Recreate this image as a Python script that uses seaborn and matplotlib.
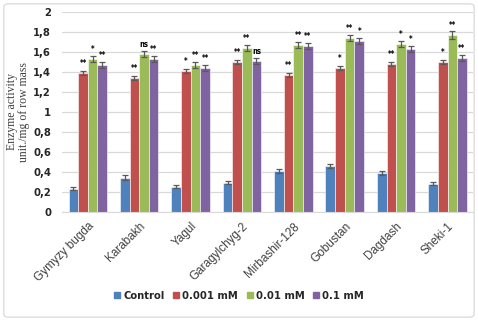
import matplotlib
matplotlib.use("Agg")
import matplotlib.pyplot as plt
import seaborn as sns
import pandas as pd
import numpy as np
from matplotlib.patches import FancyBboxPatch
from matplotlib.ticker import FixedLocator, FuncFormatter

varieties = ["Gymyzy bugda", "Karabakh", "Yagul", "Garagylchyg-2",
             "Mirbashir-128", "Gobustan", "Dagdash", "Sheki-1"]
series = ["Control", "0.001 mM", "0.01 mM", "0.1 mM"]

control = [0.23, 0.34, 0.25, 0.29, 0.41, 0.46, 0.39, 0.28]
mm0001 = [1.39, 1.34, 1.41, 1.50, 1.37, 1.44, 1.48, 1.50]
mm001 = [1.53, 1.58, 1.47, 1.64, 1.67, 1.74, 1.68, 1.77]
mm01 = [1.47, 1.53, 1.44, 1.51, 1.66, 1.71, 1.63, 1.54]

err_control = [0.015, 0.025, 0.015, 0.015, 0.02, 0.02, 0.02, 0.015]
err_0001 = [0.02, 0.02, 0.02, 0.02, 0.02, 0.02, 0.02, 0.02]
err_001 = [0.03, 0.03, 0.03, 0.03, 0.03, 0.03, 0.03, 0.04]
err_01 = [0.03, 0.03, 0.03, 0.03, 0.03, 0.03, 0.03, 0.03]

sig_control = ["", "", "", "", "", "", "", ""]
sig_0001 = ["**", "**", "*", "**", "**", "*", "**", "*"]
sig_001 = ["*", "ns", "**", "**", "**", "**", "*", "**"]
sig_01 = ["**", "**", "**", "ns", "**", "*", "*", "**"]

colors = ["#4F81BD", "#C0504D", "#9BBB59", "#8064A2"]

values = [control, mm0001, mm001, mm01]
errors = [err_control, err_0001, err_001, err_01]
sigs = [sig_control, sig_0001, sig_001, sig_01]

rows = []
for s, vals in zip(series, values):
    for v, val in zip(varieties, vals):
        rows.append({"variety": v, "series": s, "value": val})
df = pd.DataFrame(rows)

sns.set_style("white")
narrow = ["DejaVu Sans"]

fig = plt.figure(figsize=(4.78, 3.21), dpi=100)
ax = fig.add_axes([0.13, 0.3396, 0.86, 0.623])

sns.barplot(data=df, x="variety", y="value", hue="series", order=varieties,
            hue_order=series, palette=colors, errorbar=None, width=0.75,
            edgecolor="white", linewidth=0.4, saturation=1, ax=ax)

for cont, errs, sg in zip(ax.containers, errors, sigs):
    for bar, e, s in zip(cont, errs, sg):
        xc = bar.get_x() + bar.get_width() / 2
        h = bar.get_height()
        ax.errorbar(xc, h, yerr=e, color="#595959", capsize=2.2,
                    elinewidth=0.9, capthick=0.9, zorder=5)
        if s:
            ax.text(xc, h + 0.1, s, ha="center", va="center", fontsize=5.5,
                    fontweight="bold", color="black", family=narrow,
                    fontstretch="condensed")

ax.set_ylim(0, 2)
ax.set_xlim(-0.5, 7.5)
ax.yaxis.set_major_locator(FixedLocator(np.arange(0, 2.01, 0.2)))
ax.yaxis.set_major_formatter(FuncFormatter(lambda v, p: ("%g" % round(v, 1)).replace(".", ",")))
ax.grid(axis="y", color="#d9d9d9", linewidth=0.9)
ax.set_axisbelow(True)
for sp in ["top", "right", "left"]:
    ax.spines[sp].set_visible(False)
ax.spines["bottom"].set_color("#d9d9d9")
ax.tick_params(axis="both", length=0)
ax.tick_params(axis="y", pad=8)
for lab in ax.get_yticklabels():
    lab.set_family(narrow)
    lab.set_fontweight("bold")
    lab.set_fontstretch("condensed")
    lab.set_fontsize(8)
ax.set_xticks(range(len(varieties)))
ax.set_xticklabels(varieties, rotation=45, ha="right", rotation_mode="anchor",
                   fontsize=8.5, family=["Liberation Sans", "DejaVu Sans"], color="#404040")
ax.tick_params(axis="x", pad=6)
ax.set_xlabel("")
ax.set_ylabel("Enzyme activity\nunit./mg of row mass", family=["Liberation Serif", "DejaVu Serif"],
              fontsize=8.5, color="#404040", linespacing=1.05)
ax.yaxis.set_label_coords(-0.078, 0.5)

ax.legend_.remove()
handles = [plt.Rectangle((0, 0), 1, 1, color=c) for c in colors]
leg = fig.legend(handles, series, loc="center", bbox_to_anchor=(0.5, 0.078), ncol=4,
                 frameon=False, handlelength=0.55, handleheight=0.55, handletextpad=0.25,
                 columnspacing=0.8,
                 prop={"family": narrow, "weight": "bold", "size": 8, "stretch": "condensed"})

border = FancyBboxPatch((0.008, 0.012), 0.984, 0.976, boxstyle="round,pad=0,rounding_size=0.01",
                        transform=fig.transFigure, fill=False, edgecolor="#d9d9d9", linewidth=0.9)
fig.patches.append(border)

fig.savefig("out.png", dpi=100)
